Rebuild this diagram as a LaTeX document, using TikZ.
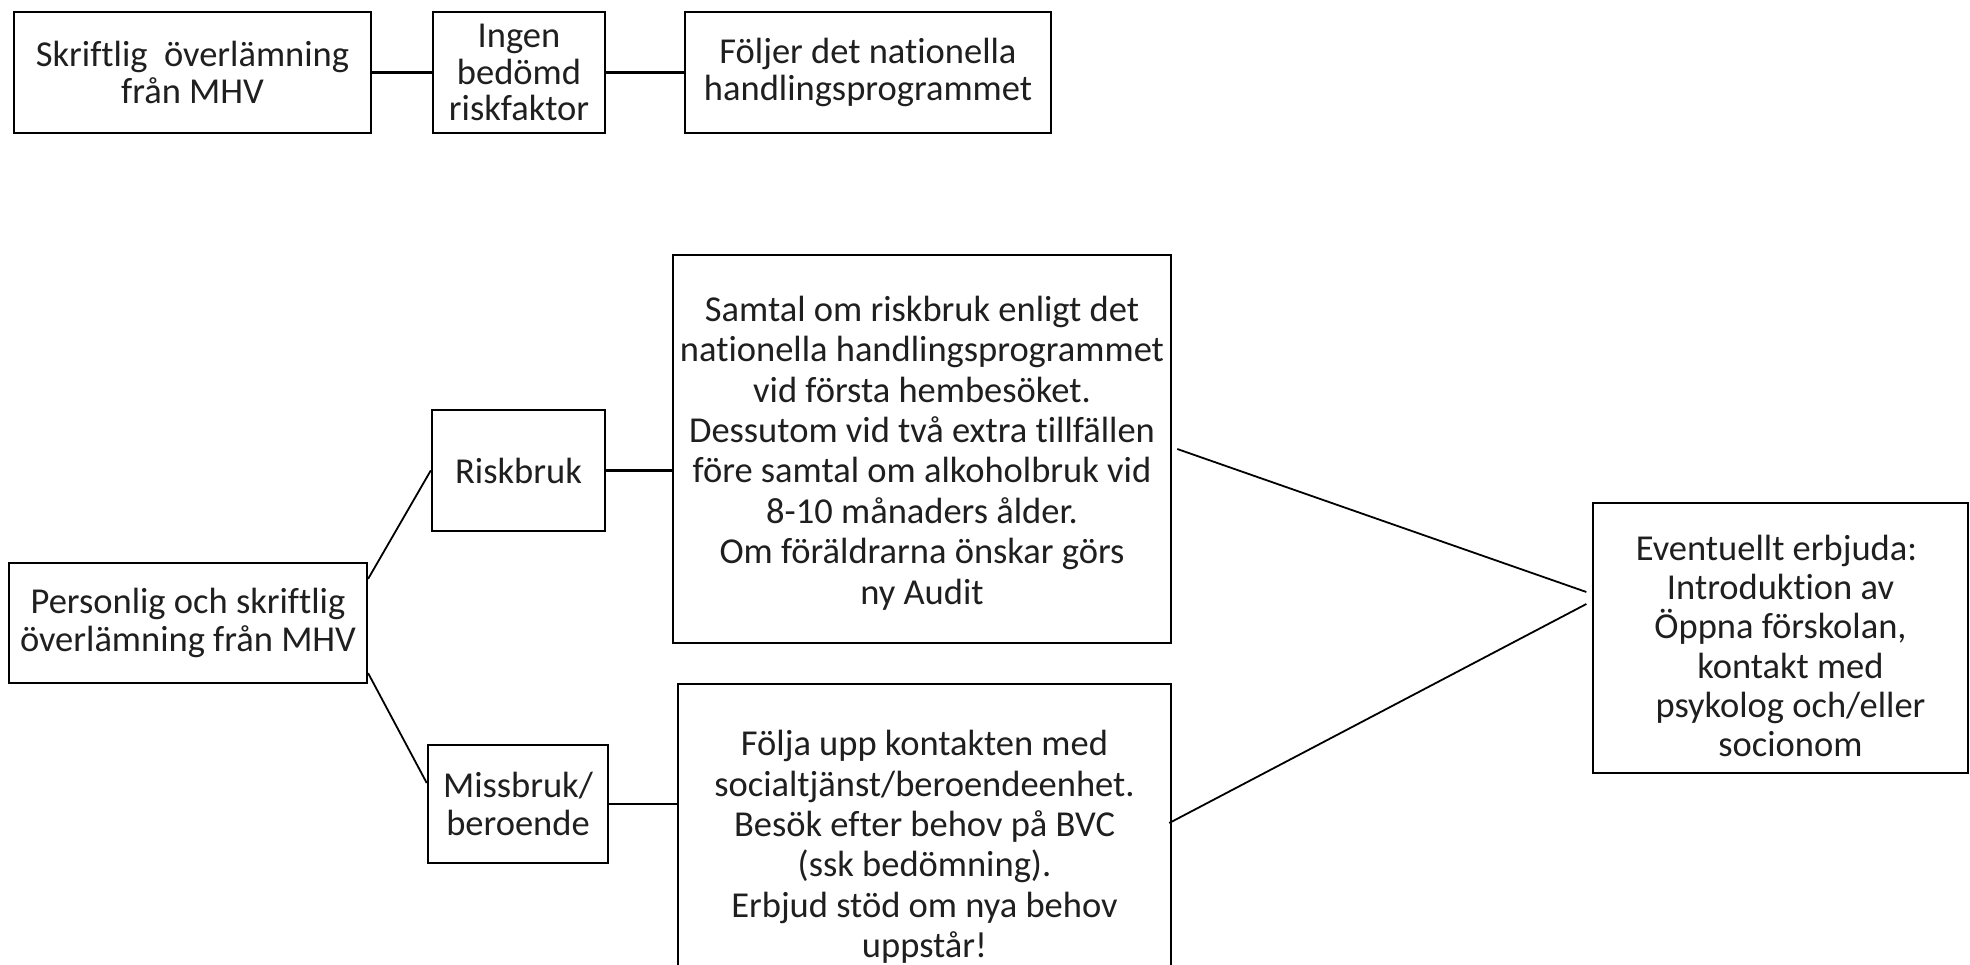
\documentclass[tikz,border=0pt]{standalone}
\usepackage{fontspec}
\setmainfont{Carlito}[Ligatures={NoCommon}]
\begin{document}
\begin{tikzpicture}[x=1pt,y=-1pt,
  box/.style={draw=black, line width=2.5pt, inner sep=0pt, align=center, text=black!88},
  thinbox/.style={box, line width=1.3pt},
  conn/.style={draw=black, line width=2.4pt},
  diag/.style={draw=black, line width=1.8pt},
  fA/.style={font=\fontsize{36.5pt}{36.5pt}\selectfont},
  fB/.style={font=\fontsize{36.5pt}{38.5pt}\selectfont},
  fE/.style={font=\fontsize{36.5pt}{39.2pt}\selectfont},
  fC/.style={font=\fontsize{36.5pt}{40.4pt}\selectfont}]
\clip (0,0) rectangle (1970,965);
\fill[white] (0,0) rectangle (1970,965);
% top row
\node[box,fA,minimum width=357pt,minimum height=121pt] (b1) at (192.5,72.5) {Skriftlig\ \ överlämning\\från MHV};
\node[box,fA,minimum width=172pt,minimum height=121pt] (b2) at (519,72.5) {Ingen\\bedömd\\riskfaktor};
\node[box,fA,minimum width=366pt,minimum height=121pt] (b3) at (868,72.5) {Följer det nationella\\handlingsprogrammet};
\draw[conn] (b1) -- (b2);
\draw[conn] (b2) -- (b3);
% lower part
\node[box,fB,line width=2.2pt,minimum width=358pt,minimum height=120pt] (pers) at (188,623) {Personlig och skriftlig\\överlämning från MHV};
\node[box,fB,minimum width=173pt,minimum height=121pt] (risk) at (518.5,470.5) {Riskbruk};
\node[box,fB,minimum width=180pt,minimum height=118pt] (miss) at (518,804) {Missbruk/\\beroende};
\node[box,fC,minimum width=498pt,minimum height=388pt] (samt) at (922,449) {};
\node[fC,align=center,inner sep=0pt,text=black!88] (samttext) at ([yshift=-4pt]samt.center) {Samtal om riskbruk enligt det\\nationella handlingsprogrammet\\vid första hembesöket.\\Dessutom vid två extra tillfällen\\före samtal om alkoholbruk vid\\8-10 månaders ålder.\\Om föräldrarna önskar görs\\ny Audit};
\node[box,fC,minimum width=493pt,minimum height=326pt] (folj) at (924.5,847) {Följa upp kontakten med\\socialtjänst/beroendeenhet.\\Besök efter behov på BVC\\(ssk bedömning).\\Erbjud stöd om nya behov\\uppstår!};
\node[thinbox,minimum width=375pt,minimum height=270pt] (ev) at (1780.5,638) {};
\node[fE,align=center,inner sep=0pt,text=black!88] (evtext) at ([yshift=-8pt]ev.center) {Eventuellt erbjuda:\hspace*{8pt}\\Introduktion av\hspace*{8pt}\\Öppna förskolan,\hspace*{8pt}\\\hspace*{20pt}kontakt med\\\hspace*{20pt}psykolog och/eller\\\hspace*{20pt}socionom};
\draw[diag] ([yshift=-17pt]pers.north east) -- (risk.west);
\draw[diag] ([yshift=11pt]pers.south east) -- ([yshift=21pt]miss.west);
\draw[conn] (risk.east) -- (risk.east -| samt.west);
\draw[conn] (miss.east) -- (miss.east -| folj.west);
\draw[diag] ([xshift=5pt]samt.east) -- ([xshift=-6pt,yshift=46pt]ev.west);
\draw[diag] ([xshift=-3pt,yshift=24pt]folj.east) -- ([xshift=-6pt,yshift=34pt]ev.west);
\end{tikzpicture}
\end{document}
